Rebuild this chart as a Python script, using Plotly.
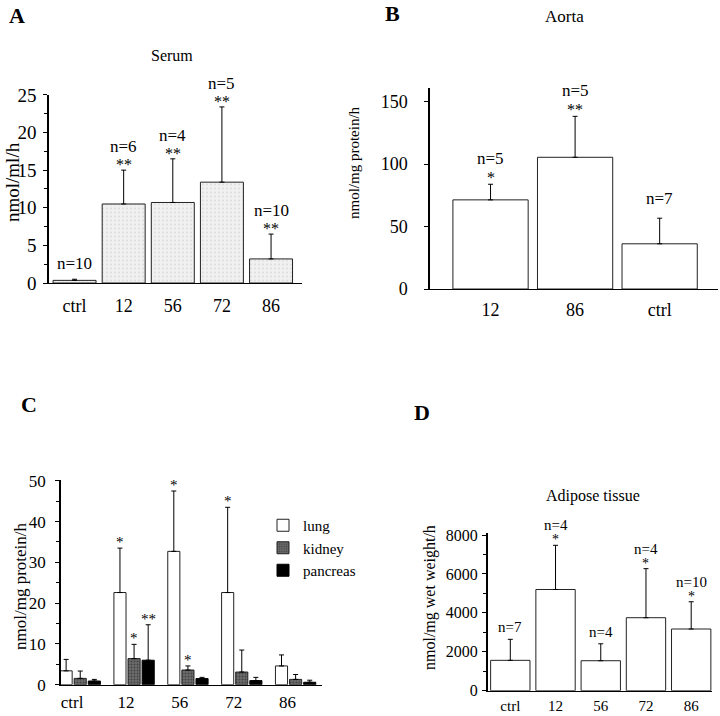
import plotly.graph_objects as go

# ---------------- data ----------------
A_categories = ["ctrl", "12", "56", "72", "86"]
A_mean = [0.35, 10.5, 10.7, 13.4, 3.2]
A_err = [0.15, 4.5, 5.8, 10.0, 3.3]
A_n = ["n=10", "n=6", "n=4", "n=5", "n=10"]
A_sig = ["", "**", "**", "**", "**"]
A_yticks = [0, 5, 10, 15, 20, 25]

B_categories = ["12", "86", "ctrl"]
B_mean = [71.4, 105.5, 36.2]
B_err = [12.5, 32.8, 20.5]
B_n = ["n=5", "n=5", "n=7"]
B_sig = ["*", "**", ""]
B_yticks = [0, 50, 100, 150]

C_categories = ["ctrl", "12", "56", "72", "86"]
C_lung = [3.4, 22.6, 32.7, 22.6, 4.6]
C_lung_err = [2.8, 10.9, 14.8, 20.9, 2.7]
C_lung_sig = ["", "*", "*", "*", ""]
C_kidney = [1.55, 6.4, 3.6, 3.1, 1.3]
C_kidney_err = [1.8, 3.5, 1.0, 5.4, 1.2]
C_kidney_sig = ["", "*", "*", "", ""]
C_pancreas = [0.9, 6.0, 1.5, 1.0, 0.6]
C_pancreas_err = [0.4, 8.7, 0.3, 0.8, 0.5]
C_pancreas_sig = ["", "**", "", "", ""]
C_yticks = [0, 10, 20, 30, 40, 50]

D_categories = ["ctrl", "12", "56", "72", "86"]
D_mean = [1560, 5200, 1540, 3750, 3170]
D_err = [1080, 2270, 870, 2520, 1400]
D_n = ["n=7", "n=4", "n=4", "n=4", "n=10"]
D_sig = ["", "*", "", "*", "*"]
D_yticks = [0, 2000, 4000, 6000, 8000]

# ---------------- style ----------------
FONT = "Liberation Serif, Times New Roman, serif"
BLACK = "#000000"
W, H = 720, 716


def err(arr):
    return dict(type="data", symmetric=False, array=arr, arrayminus=[0] * len(arr),
                color=BLACK, thickness=1, width=2.5)


fig = go.Figure()

# Panel A
fig.add_trace(go.Bar(x=A_categories, y=A_mean, error_y=err(A_err), width=0.875,
                     marker=dict(color="#eeeeee", line=dict(color="#222222", width=1),
                                 pattern=dict(shape=".", fgcolor="#c4c4c4", bgcolor="#f1f1f1",
                                              size=4, solidity=0.2)),
                     xaxis="x", yaxis="y", showlegend=False))
# Panel B
fig.add_trace(go.Bar(x=B_categories, y=B_mean, error_y=err(B_err), width=0.89,
                     marker=dict(color="white", line=dict(color="#222222", width=1)),
                     xaxis="x2", yaxis="y2", showlegend=False))
# Panel C (grouped, numeric positions)
bw = 0.225
off = 0.262
idx = list(range(len(C_categories)))
C_series = [
    ("lung", C_lung, C_lung_err, C_lung_sig, -off,
     dict(color="white", line=dict(color="#222222", width=1))),
    ("kidney", C_kidney, C_kidney_err, C_kidney_sig, 0.0,
     dict(color="#555555", line=dict(color="#222222", width=1),
          pattern=dict(shape=".", fgcolor="#1a1a1a", bgcolor="#6e6e6e", size=3, solidity=0.4))),
    ("pancreas", C_pancreas, C_pancreas_err, C_pancreas_sig, off,
     dict(color="#000000", line=dict(color="#000000", width=1))),
]
for name, vals, errs, sig, o, mk in C_series:
    fig.add_trace(go.Bar(x=[i + o for i in idx], y=vals, error_y=err(errs), width=bw,
                         marker=mk, name=name, xaxis="x3", yaxis="y3", showlegend=True))
# Panel D
fig.add_trace(go.Bar(x=D_categories, y=D_mean, error_y=err(D_err), width=0.87,
                     marker=dict(color="white", line=dict(color="#222222", width=1)),
                     xaxis="x4", yaxis="y4", showlegend=False))

ann = []


def label_set(xref, yref, xs, means, errs, ns, sigs, nfont, sfont, n_gap_sig, n_gap_nosig, s_shift):
    for x, m, e, n, s in zip(xs, means, errs, ns, sigs):
        top = m + e
        if s:
            ann.append(dict(x=x, y=top, xref=xref, yref=yref, text=s, showarrow=False,
                            yanchor="bottom", yshift=s_shift,
                            font=dict(family=FONT, size=sfont, color=BLACK)))
        if n:
            ann.append(dict(x=x, y=top, xref=xref, yref=yref, text=n, showarrow=False,
                            yanchor="bottom", yshift=(n_gap_sig if s else n_gap_nosig),
                            font=dict(family=FONT, size=nfont, color=BLACK)))


label_set("x", "y", list(range(5)), A_mean, A_err, A_n, A_sig, 17, 16, 12, 4, -5)
label_set("x2", "y2", list(range(3)), B_mean, B_err, B_n, B_sig, 17, 16, 14, 8, -4)
for name, vals, errs, sig, o, mk in C_series:
    label_set("x3", "y3", [i + o for i in idx], vals, errs, [""] * 5, sig, 15, 15, 0, 0, -4)
label_set("x4", "y4", list(range(5)), D_mean, D_err, D_n, D_sig, 15, 14, 10, 2, -4)


def paper_text(px, py, text, size, bold=False, angle=0):
    ann.append(dict(x=px / W, y=1 - py / H, xref="paper", yref="paper", text=text,
                    showarrow=False, textangle=angle, xanchor="center", yanchor="middle",
                    font=dict(family=FONT, size=size, color=BLACK, weight=("bold" if bold else "normal"))))


paper_text(17, 16, "A", 22, bold=True)
paper_text(393, 14, "B", 22, bold=True)
paper_text(29, 404, "C", 22, bold=True)
paper_text(422, 412, "D", 22, bold=True)
paper_text(172, 55, "Serum", 16)
paper_text(564, 17, "Aorta", 17)
paper_text(593, 496, "Adipose tissue", 16)
paper_text(12, 182, "nmol/ml/h", 19, angle=-90)
paper_text(354, 163, "nmol/mg protein/h", 15, angle=-90)
paper_text(20, 586, "nmol/mg protein/h", 17, angle=-90)
paper_text(430, 598, "nmol/mg wet weight/h", 16, angle=-90)


def yax(domain, rng, tickvals, size, standoff, minor=None, lw=1.5):
    d = dict(domain=domain, range=rng, tickvals=tickvals, showline=True, linecolor=BLACK,
             linewidth=lw, ticks="outside", ticklen=4, tickcolor=BLACK, tickwidth=1,
             showgrid=False, zeroline=False, tickfont=dict(family=FONT, size=size, color=BLACK),
             ticklabelstandoff=standoff, fixedrange=True)
    if minor is not None:
        d["minor"] = dict(dtick=minor, ticks="outside", ticklen=3, tickcolor=BLACK, tickwidth=1,
                          showgrid=False)
    return d


def xax(domain, rng, anchor, size, standoff, tickvals=None, ticktext=None, cat=True):
    d = dict(domain=domain, range=rng, anchor=anchor, showline=True, linecolor=BLACK, linewidth=1,
             ticks="", showgrid=False, zeroline=False,
             tickfont=dict(family=FONT, size=size, color=BLACK), ticklabelstandoff=standoff,
             fixedrange=True)
    if cat:
        d["type"] = "category"
    if tickvals is not None:
        d["tickvals"] = tickvals
        d["ticktext"] = ticktext
    return d


C_tick_shift = -0.15
fig.update_layout(
    width=W, height=H, margin=dict(l=0, r=0, t=0, b=0, autoexpand=False),
    paper_bgcolor="white", plot_bgcolor="white", barmode="overlay",
    font=dict(family=FONT, color=BLACK),
    xaxis=xax([49 / W, 302 / W], [-0.52, 4.63], "y", 18, 6),
    yaxis=dict(yax([1 - 283 / H, 1 - 94.5 / H], [0, 25.05], A_yticks, 19, 3, minor=2.5), anchor="x"),
    xaxis2=xax([430 / W, 718 / W], [-0.716, 2.69], "y2", 18, 4),
    yaxis2=dict(yax([1 - 289 / H, 1 - 88 / H], [0, 161], B_yticks, 18, 13), anchor="x2"),
    xaxis3=xax([61 / W, 322 / W], [-0.357, 4.49], "y3", 17, 2, tickvals=[i + C_tick_shift for i in idx],
               ticktext=C_categories, cat=False),
    yaxis3=dict(yax([1 - 684.7 / H, 1 - 480 / H], [0, 50.2], C_yticks, 17, 6, minor=5), anchor="x3"),
    xaxis4=xax([487.7 / W, 712 / W], [-0.5, 4.46], "y4", 15, 1),
    yaxis4=dict(yax([1 - 690.7 / H, 1 - 532.7 / H], [0, 8118], D_yticks, 16, 1, minor=1000), anchor="x4"),
    legend=dict(x=263 / W, y=1 - 509 / H, xanchor="left", yanchor="top", bgcolor="rgba(0,0,0,0)",
                font=dict(family=FONT, size=15, color=BLACK), traceorder="normal",
                tracegroupgap=0, itemwidth=30),
    annotations=ann,
)

fig.write_html("out.html", config={"displayModeBar": False},
               post_script="document.body.style.margin='0px';document.body.style.overflow='hidden';")
